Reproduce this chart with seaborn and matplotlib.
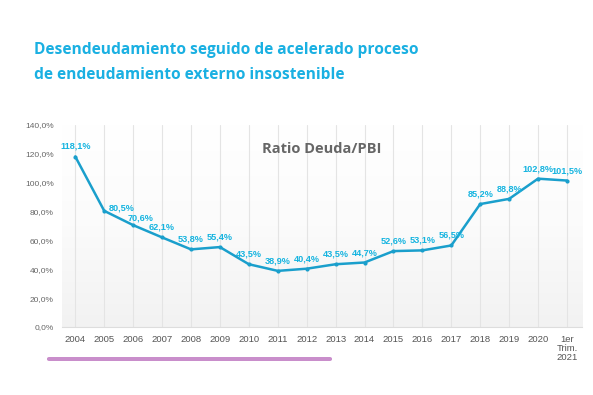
import numpy as np
import pandas as pd
import matplotlib.pyplot as plt
from matplotlib.colors import LinearSegmentedColormap
from matplotlib.patches import FancyBboxPatch
import seaborn as sns

# Ratio deuda / PBI (%)
periodos = ['2004', '2005', '2006', '2007', '2008', '2009', '2010', '2011', '2012',
            '2013', '2014', '2015', '2016', '2017', '2018', '2019', '2020', '1er\nTrim.\n2021']
ratio = [118.1, 80.5, 70.6, 62.1, 53.8, 55.4, 43.5, 38.9, 40.4,
         43.5, 44.7, 52.6, 53.1, 56.5, 85.2, 88.8, 102.8, 101.5]
y_ticks = [0, 20, 40, 60, 80, 100, 120, 140]

df = pd.DataFrame({'periodo': periodos, 'ratio': ratio})
df['pos'] = range(len(df))

sns.set_style('white')
plt.rcParams['font.family'] = ['Liberation Sans', 'DejaVu Sans']

fig = plt.figure(figsize=(5.93, 3.95), dpi=100)
n = len(df)
ax = fig.add_axes([62 / 593, 1 - 327 / 395, 520 / 593, 202 / 395])

# soft gray gradient background (whiter at top)
grad = np.linspace(0, 1, 256).reshape(-1, 1)
ax.imshow(grad, extent=[-0.46, n - 0.48, 0, 140], aspect='auto',
          cmap=LinearSegmentedColormap.from_list('g', ['#ffffff', '#fbfbfb', '#f2f2f2']),
          zorder=0)

for i in range(n):
    ax.axvline(i, color='#e4e4e4', lw=0.8, zorder=1)

sns.lineplot(data=df, x='pos', y='ratio', ax=ax, color='#1a9fcc', lw=1.8,
             marker='o', markersize=3, markeredgewidth=0, zorder=3)

offsets = {0: (0, 11), 1: (17, 3), 2: (7, 7)}
for i, v in enumerate(ratio):
    dx, dy = offsets.get(i, (0, 10))
    ax.annotate(f'{v:.1f}%'.replace('.', ','), (i, v), xytext=(dx, dy),
                textcoords='offset pixels', ha='center', va='center',
                fontsize=6.6, fontweight='bold', color='#15b4e0', zorder=4)

ax.set_xlim(-0.46, n - 0.48)
ax.set_ylim(0, 140)
ax.set_xticks(range(n))
ax.set_xticklabels(periodos, fontsize=6.8, color='#555555', linespacing=1.0)
ax.set_yticks(y_ticks)
ax.set_yticklabels([f'{t:.1f}%'.replace('.', ',') for t in y_ticks], fontsize=6, color='#666666')
ax.tick_params(axis='both', length=0, pad=6)
ax.set_xlabel('')
ax.set_ylabel('')
for s in ['top', 'right', 'left']:
    ax.spines[s].set_visible(False)
ax.spines['bottom'].set_color('#dddddd')

ax.text(0.5, 0.88, 'Ratio Deuda/PBI', transform=ax.transAxes, ha='center', va='center',
        fontsize=10.5, fontweight='bold', color='#666666', family=['Open Sans', 'DejaVu Sans'])

for k, linea in enumerate(['Desendeudamiento seguido de acelerado proceso',
                           'de endeudamiento externo insostenible']):
    fig.text(34 / 593, 1 - (50 + 25 * k) / 395, linea, fontsize=11.2, fontweight='bold',
             color='#1ab0e2', va='center', ha='left', family=['Open Sans', 'DejaVu Sans'])

bar = FancyBboxPatch((47 / 593, 1 - 361 / 395), 285 / 593, 4 / 395,
                     boxstyle='round,pad=0,rounding_size=0.004', transform=fig.transFigure,
                     facecolor='#c98ecb', edgecolor='none')
fig.patches.append(bar)

fig.savefig('out.png', dpi=100)
